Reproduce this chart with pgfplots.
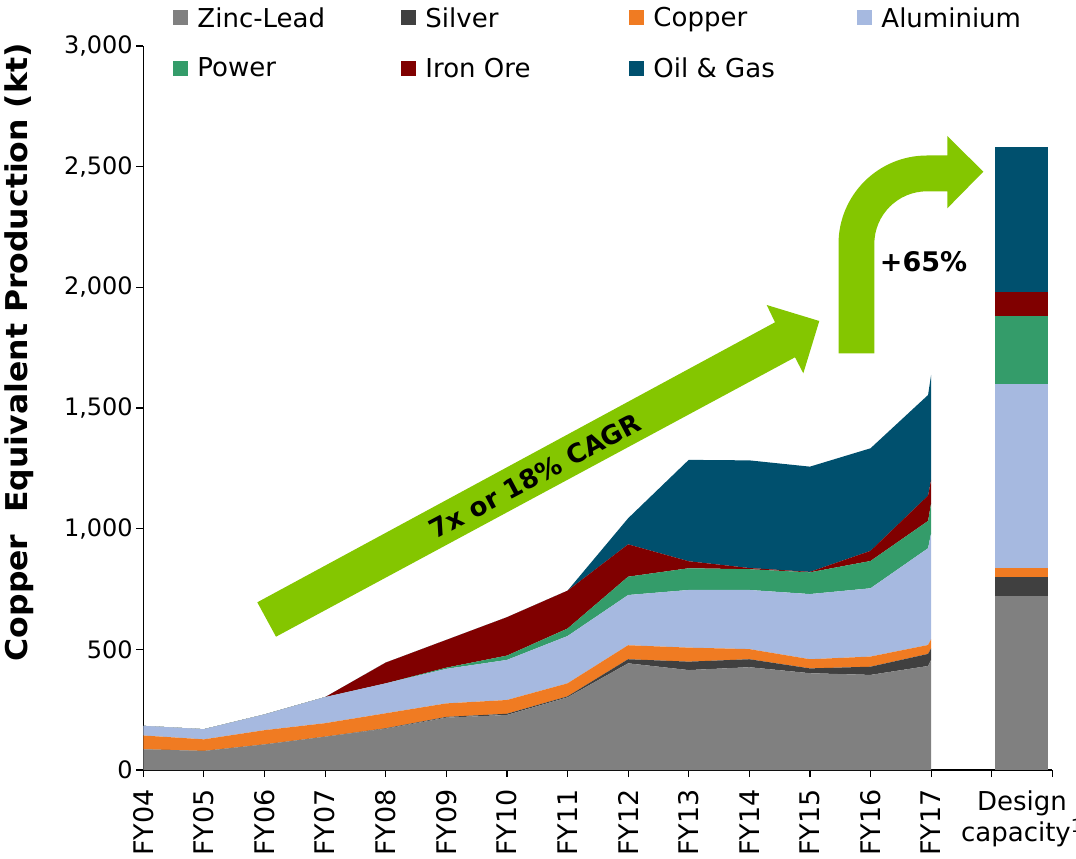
\documentclass[border=0pt]{standalone}
\usepackage{fontspec}
\setmainfont{DejaVu Sans}
\usepackage{pgfplots}
\usepackage{pgfplotstable}
\pgfplotsset{compat=1.18}
\definecolor{zinc}{RGB}{128,128,128}
\definecolor{silver}{RGB}{64,64,64}
\definecolor{copper}{RGB}{240,123,34}
\definecolor{alum}{RGB}{166,185,224}
\definecolor{power}{RGB}{52,156,106}
\definecolor{iron}{RGB}{128,0,0}
\definecolor{oil}{RGB}{0,80,110}
\definecolor{arrowgreen}{RGB}{132,198,0}

\pgfplotstableread{
x     zinc silver copper alum power iron oil
0     86   0      57     40   0     0    0
1     79   0      48     42   0     0    0
2     106  0      59     65   0     0    0
3     138  0      56     108  0     0    0
4     171  2      62     124  0     86   0
5     217  3      56     143  5     115  0
6     228  5      57     166  18    159  0
7     301  4      54     196  31    157  0
8     442  17     58     208  76    134  108
9     414  35     58     239  90    29   420
10    426  33     42     245  86    5    446
11    401  20     38     270  90    2    436
12    394  34     42     283  113   42   425
12.95 431  50     37     401  113   105  417
13    456  48     38     439  124   97   435
}\areadata

\begin{document}
\begin{tikzpicture}
\begin{axis}[
  scale only axis, width=909pt, height=724pt,
  xmin=0, xmax=15, ymin=0, ymax=3000,
  axis x line*=bottom, axis y line*=left,
  axis line style={-, line width=1.3pt, black},
  stack plots=y,
  xtick={0,...,15},
  xticklabels={FY04,FY05,FY06,FY07,FY08,FY09,FY10,FY11,FY12,FY13,FY14,FY15,FY16,FY17,{},{}},
  x tick label style={rotate=90, anchor=east, font=\fontsize{27}{31}\selectfont},
  xticklabel shift=9pt,
  ytick={0,500,...,3000},
  y tick label style={font=\fontsize{24}{28}\selectfont},
  /pgf/number format/1000 sep={,},
  /pgf/number format/assume math mode=true,
  tick style={black, line width=1.2pt},
  major tick length=7pt,
  tick align=outside,
  ylabel={\scalebox{1.05}[1]{Copper~~Equivalent Production (kt)}},
  ylabel style={font=\bfseries\fontsize{30}{34}\selectfont, at={(axis description cs:-0.137,0.577)}, anchor=center},
  legend columns=4,
  legend image code/.code={\fill[#1] (0pt,-7.5pt) rectangle (15pt,7.5pt);},
  legend style={draw=none, fill=none, inner sep=0pt, outer sep=0pt,
    at={(axis description cs:0.0332,1.0575)}, anchor=north west,
    font=\fontsize{26}{30}\selectfont, row sep=23pt,
    nodes={inner sep=3pt}},
]
\addplot[fill=zinc, draw=none] table[x=x,y=zinc]{\areadata} \closedcycle;
\addlegendentry{\makebox[207pt][l]{\hspace{6pt}Zinc-Lead}}
\addplot[fill=silver, draw=none] table[x=x,y=silver]{\areadata} \closedcycle;
\addlegendentry{\makebox[207pt][l]{\hspace{6pt}Silver}}
\addplot[fill=copper, draw=none] table[x=x,y=copper]{\areadata} \closedcycle;
\addlegendentry{\makebox[207pt][l]{\hspace{6pt}Copper}}
\addplot[fill=alum, draw=none] table[x=x,y=alum]{\areadata} \closedcycle;
\addlegendentry{\makebox[207pt][l]{\hspace{6pt}Aluminium}}
\addplot[fill=power, draw=none] table[x=x,y=power]{\areadata} \closedcycle;
\addlegendentry{\makebox[207pt][l]{\hspace{6pt}Power}}
\addplot[fill=iron, draw=none] table[x=x,y=iron]{\areadata} \closedcycle;
\addlegendentry{\makebox[207pt][l]{\hspace{6pt}Iron Ore}}
\addplot[fill=oil, draw=none] table[x=x,y=oil]{\areadata} \closedcycle;
\addlegendentry{\makebox[207pt][l]{\hspace{6pt}Oil \& Gas}}
\end{axis}
\begin{axis}[
  scale only axis, width=909pt, height=724pt,
  xmin=0, xmax=15, ymin=0, ymax=3000,
  hide axis, ybar stacked, bar width=53pt,
]
\addplot[fill=zinc, draw=none] coordinates {(14.49,722)};
\addplot[fill=silver, draw=none] coordinates {(14.49,77)};
\addplot[fill=copper, draw=none] coordinates {(14.49,38)};
\addplot[fill=alum, draw=none] coordinates {(14.49,762)};
\addplot[fill=power, draw=none] coordinates {(14.49,282)};
\addplot[fill=iron, draw=none] coordinates {(14.49,98)};
\addplot[fill=oil, draw=none] coordinates {(14.49,603)};
\end{axis}
% category label of the design-capacity bar
\node[anchor=north, align=center, font=\fontsize{26}{31}\selectfont, inner sep=0pt] at (878.7pt,-21pt) {Design\\capacity\textsuperscript{1}};
% annotation arrows
\fill[arrowgreen] (132.7pt,133.3pt) -- (114.0pt,167.7pt) -- (631.7pt,447.7pt) -- (623.4pt,465.0pt) -- (676.0pt,449.0pt) -- (660.0pt,396.7pt) -- (651.7pt,412.7pt) -- cycle;
\fill[arrowgreen] (695.2pt,416.7pt) -- (695.2pt,526pt) arc[start angle=180, end angle=90, radius=88.5pt] -- (804.0pt,614.5pt) -- (804.0pt,634pt) -- (840.0pt,598.3pt) -- (804.0pt,561.7pt) -- (804.0pt,578.7pt) -- (783.7pt,578.7pt) arc[start angle=90, end angle=180, radius=52.7pt] -- (731.0pt,416.7pt) -- cycle;
\node[rotate=28, font=\bfseries\fontsize{26}{30}\selectfont] at (391.7pt,294pt) {7x or 18\% CAGR};
\node[font=\bfseries\fontsize{27}{32}\selectfont] at (780.2pt,508pt) {+65\%};
\pgfresetboundingbox
\path[use as bounding box] (-143.3pt,-89pt) rectangle (932.7pt,770pt);
\end{tikzpicture}
\end{document}
